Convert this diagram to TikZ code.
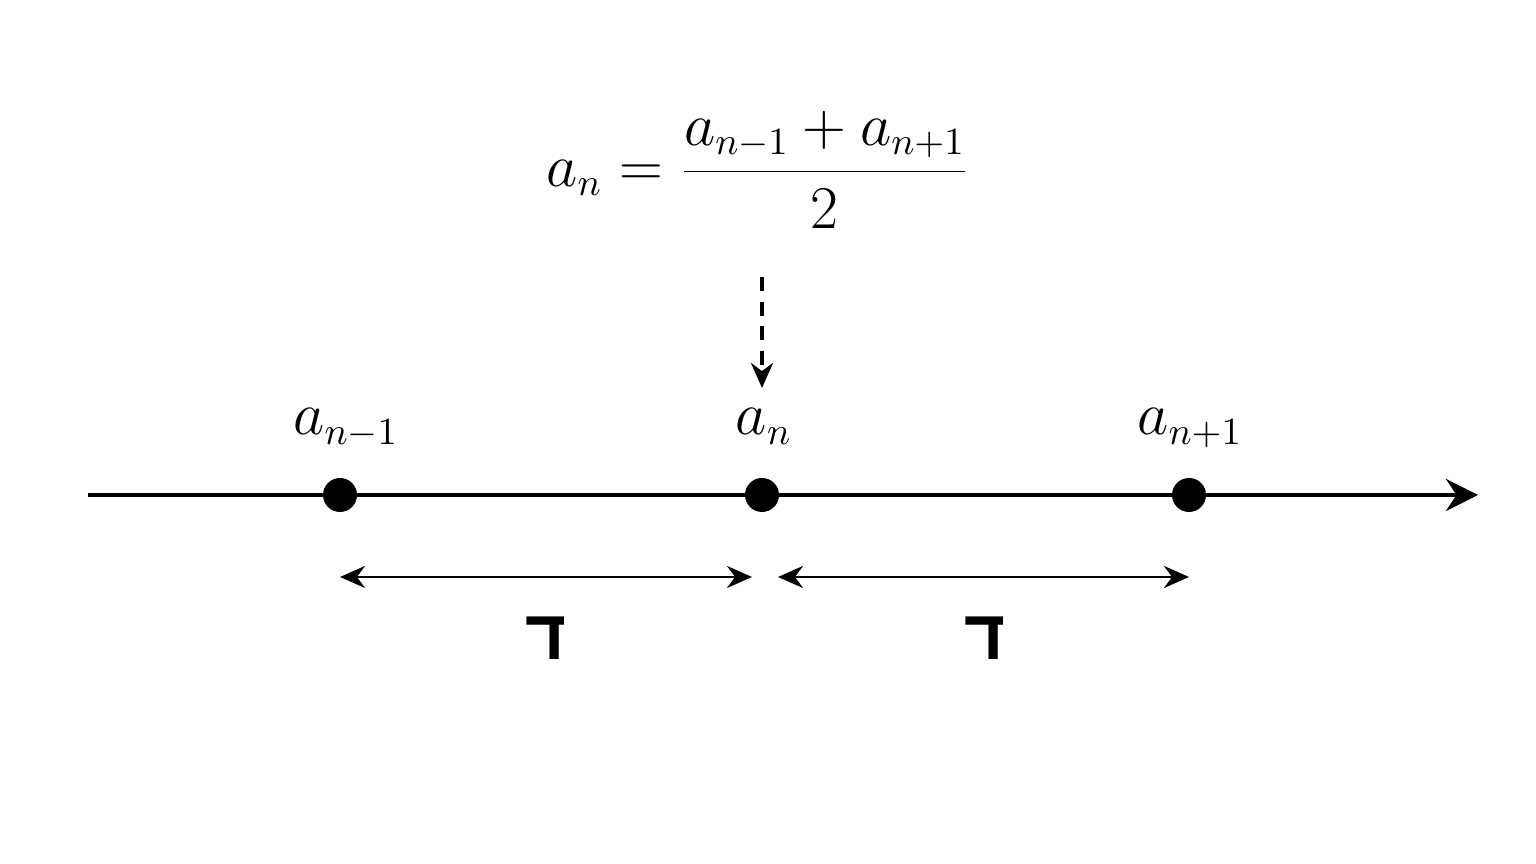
\documentclass[tikz,border=0pt]{standalone}
\usepackage{fontspec}
\usetikzlibrary{arrows.meta,positioning}
\TeXXeTstate=1
\newfontfamily\hebfont[Script=Hebrew]{Liberation Sans}
\tikzset{
    term/.style={
           font=\fontsize{16}{19}\selectfont,
           inner sep=1pt,
           },
    dot/.style={
           circle,
           fill=black,
           inner sep=0pt,
           minimum size=0.34cm,
           },
    diff/.style={
           font=\hebfont\bfseries\fontsize{20}{24}\selectfont,
           inner sep=1pt,
           },
}

\begin{document}
\begin{tikzpicture}[
  axis/.style={line width=1.2pt,-{Stealth[length=3.2mm,width=3.2mm]}},
  span/.style={line width=0.8pt,{Stealth[length=2.5mm,width=2.2mm]}-{Stealth[length=2.5mm,width=2.2mm]}},
  hint/.style={line width=1pt,dash pattern=on 4pt off 3pt,-{Stealth[length=2.5mm,width=2.2mm]}}]
\useasboundingbox (0,0) rectangle (15.36,8.64);
\coordinate (start) at (0.88,3.69);
\coordinate (end) at (14.78,3.69);
\draw[axis] (start) -- (end);
\node[dot](prev) at (3.40,3.69){};
\node[dot](cur) at (7.62,3.69){};
\node[dot](next) at (11.89,3.69){};
\node[term,anchor=base](prevlbl) at (3.46,4.29){$a_{n-1}$};
\node[term,anchor=base](curlbl) at (7.64,4.29){$a_n$};
\node[term,anchor=base](nextlbl) at (11.90,4.29){$a_{n+1}$};
\node[term](rule) at (7.58,6.94){$\displaystyle a_n = \frac{a_{n-1}+a_{n+1}}{2}$};
\coordinate (hinttop) at (7.62,5.87);
\coordinate (hintend) at (7.62,4.76);
\draw[hint] (hinttop) -- (hintend);
\coordinate (leftA) at (3.40,2.87);
\coordinate (leftB) at (7.52,2.87);
\coordinate (rightA) at (7.78,2.87);
\coordinate (rightB) at (11.89,2.87);
\draw[span] (leftA) -- (leftB);
\draw[span] (rightA) -- (rightB);
\node[diff](leftd) at (5.46,2.26){\beginR ד\endR};
\node[diff](rightd) at (9.85,2.26){\beginR ד\endR};
\end{tikzpicture}
\end{document}
